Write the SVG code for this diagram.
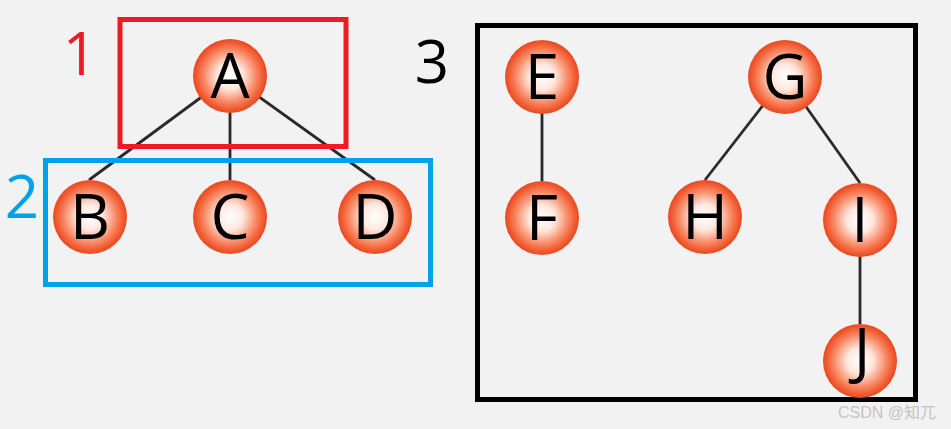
<svg xmlns="http://www.w3.org/2000/svg" width="951" height="429" viewBox="0 0 951 429">
<defs>
<radialGradient id="ball" cx="50%" cy="50%" r="50%">
<stop offset="0" stop-color="#ffffff"/>
<stop offset="0.35" stop-color="#fee8df"/>
<stop offset="0.7" stop-color="#f88a66"/>
<stop offset="0.9" stop-color="#f25a30"/>
<stop offset="1" stop-color="#e64a22"/>
</radialGradient>
<style>
.n circle{fill:url(#ball);}
.n text{font-family:"Open Sans","Noto Sans","DejaVu Sans",sans-serif;font-size:62px;font-weight:500;fill:#000;text-anchor:middle;}
.edge{stroke:#2a2a2a;stroke-width:2.8;fill:none;}
.lbl{font-family:"Open Sans","Noto Sans",sans-serif;font-size:60px;text-anchor:middle;}
.box{fill:none;stroke-width:5;}
</style>
</defs>
<rect width="951" height="429" fill="#f2f2f2"/>
<g id="connectors">
<line class="edge" x1="230" y1="76" x2="89" y2="180"/>
<line class="edge" x1="230" y1="76" x2="230" y2="180"/>
<line class="edge" x1="230" y1="76" x2="375" y2="180"/>
<line class="edge" x1="542" y1="77" x2="542" y2="181"/>
<line class="edge" x1="785" y1="77" x2="705" y2="180"/>
<line class="edge" x1="785" y1="77" x2="860" y2="183"/>
<line class="edge" x1="860" y1="220" x2="860" y2="324"/>
</g>
<g id="boxes">
<rect id="box1" class="box" x="120" y="19.5" width="226" height="127" stroke="#ed1c24" stroke-width="4.5"/>
<rect id="box2" class="box" x="45.5" y="160.5" width="385" height="124" stroke="#00a2e8"/>
<rect id="box3" class="box" x="477.5" y="25.5" width="438" height="374" stroke="#000"/>
</g>
<g id="labels">
<text class="lbl" x="80" y="75" fill="#ed1c24">1</text>
<text class="lbl" x="22" y="218" fill="#00a2e8">2</text>
<text class="lbl" x="432" y="83" fill="#000">3</text>
</g>
<g id="node-A" class="n"><circle cx="230" cy="76" r="37"/><text x="230" y="98">A</text></g>
<g id="node-B" class="n"><circle cx="90" cy="217" r="37"/><text x="90" y="239">B</text></g>
<g id="node-C" class="n"><circle cx="230" cy="217" r="37"/><text x="230" y="239">C</text></g>
<g id="node-D" class="n"><circle cx="375" cy="217" r="37"/><text x="375" y="239">D</text></g>
<g id="node-E" class="n"><circle cx="542" cy="77" r="37"/><text x="542" y="99">E</text></g>
<g id="node-F" class="n"><circle cx="542" cy="218" r="37"/><text x="542" y="240">F</text></g>
<g id="node-G" class="n"><circle cx="785" cy="77" r="37"/><text x="785" y="99">G</text></g>
<g id="node-H" class="n"><circle cx="705" cy="217" r="37"/><text x="705" y="239">H</text></g>
<g id="node-I" class="n"><circle cx="860" cy="220" r="37"/><text x="860" y="242">I</text></g>
<g id="node-J" class="n"><circle cx="860" cy="361" r="37"/><text x="862" y="373">J</text></g>
<text x="936" y="418" font-family="'Liberation Sans','Noto Sans CJK SC',sans-serif" font-size="16" fill="#c4c4c4" text-anchor="end">CSDN @知兀</text>
</svg>
